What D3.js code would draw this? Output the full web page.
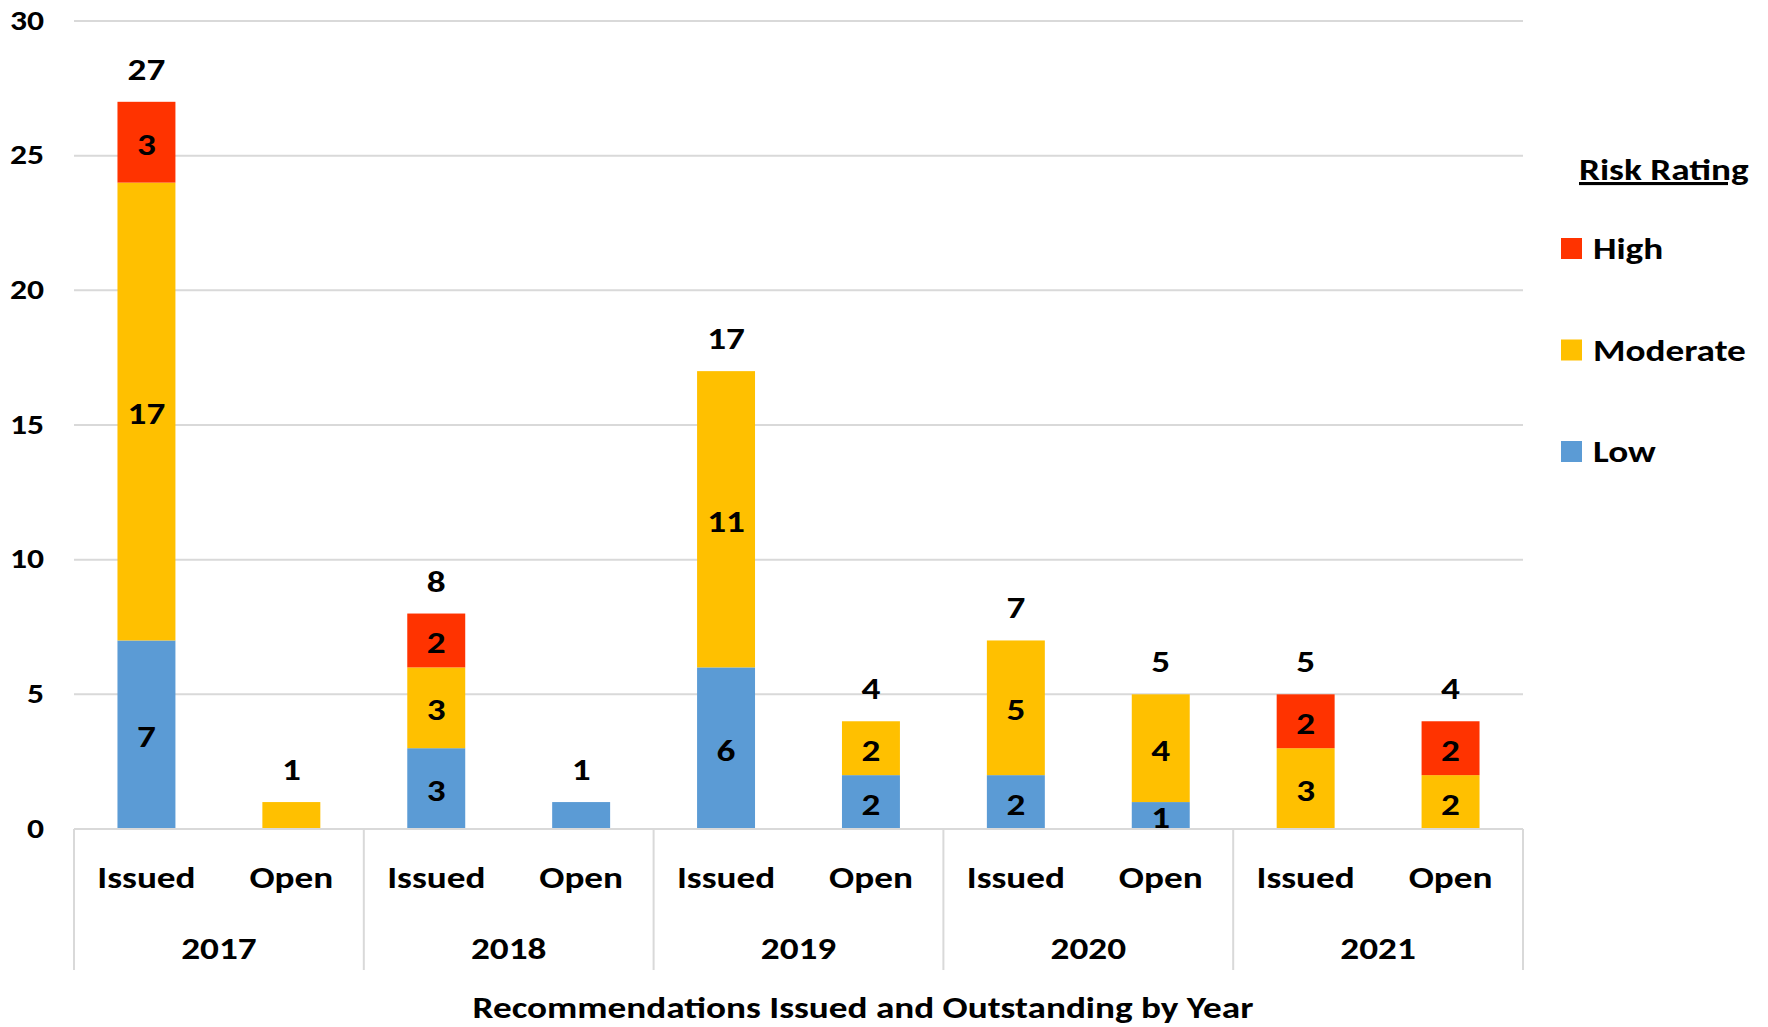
<!DOCTYPE html>
<html>
<head>
<meta charset="utf-8">
<script src="https://cdn.jsdelivr.net/npm/d3@7"></script>
<style>
    body { margin: 0; background: #fff; }
    svg text { font-family: Carlito, Calibri, Lato, sans-serif; font-weight: 700; fill: #000; }
</style>
</head>
<body>
<div id="chart"></div>
<script>

// Data
const years = ["2017", "2018", "2019", "2020", "2021"];
const statuses = ["Issued", "Open"];
const riskLevels = ["Low", "Moderate", "High"];
const riskColors = ["#5B9BD5", "#FFC000", "#FF3300"];

// one value per bar, order: 2017 Issued, 2017 Open, 2018 Issued, ...
const lowValues      = [7, 0, 3, 1, 6, 2, 2, 1, 0, 0];
const moderateValues = [17, 1, 3, 0, 11, 2, 5, 4, 3, 2];
const highValues     = [3, 0, 2, 0, 0, 0, 0, 0, 2, 2];

const yTicks = [0, 5, 10, 15, 20, 25, 30];
const xTitle = "Recommendations Issued and Outstanding by Year";
const legendTitle = "Risk Rating";


class riskChart {

    constructor(_parentElement) {
        this.parentElement = _parentElement;
        this.initVis();
    }

    initVis() {
        let vis = this;

        vis.width = 1768;
        vis.height = 1027;
        vis.plot = { left: 74, right: 1523, top: 21, bottom: 829 };

        vis.svg = d3.select("#" + vis.parentElement).append("svg")
            .attr("width", vis.width)
            .attr("height", vis.height);

        // rows for the stack
        vis.rows = [];
        years.forEach(function (yr, i) {
            statuses.forEach(function (st, j) {
                let k = i * statuses.length + j;
                vis.rows.push({
                    key: yr + "-" + st, year: yr, status: st,
                    Low: lowValues[k], Moderate: moderateValues[k], High: highValues[k]
                });
            });
        });
        vis.rows.forEach(function (d) { d.total = d.Low + d.Moderate + d.High; });

        vis.x = d3.scaleBand()
            .domain(vis.rows.map(d => d.key))
            .range([vis.plot.left, vis.plot.right]);

        vis.xYear = d3.scaleBand()
            .domain(years)
            .range([vis.plot.left, vis.plot.right]);

        vis.y = d3.scaleLinear()
            .domain([0, 30])
            .range([vis.plot.bottom, vis.plot.top]);

        vis.color = d3.scaleOrdinal().domain(riskLevels).range(riskColors);

        vis.barWidth = vis.x.bandwidth() * 0.4;

        // gridlines
        vis.svg.append("g")
            .attr("class", "grid")
            .selectAll("line")
            .data(yTicks)
            .enter().append("line")
            .attr("x1", vis.plot.left)
            .attr("x2", vis.plot.right)
            .attr("y1", d => vis.y(d))
            .attr("y2", d => vis.y(d))
            .style("stroke", "#D9D9D9")
            .style("stroke-width", 2);

        // y axis labels (no axis line)
        let yAxis = d3.axisLeft(vis.y)
            .tickValues(yTicks)
            .tickSize(0)
            .tickPadding(0);
        let yG = vis.svg.append("g")
            .attr("class", "y-axis axis")
            .attr("transform", "translate(44,0)")
            .call(yAxis);
        yG.select(".domain").remove();
        yG.selectAll("text")
            .attr("dy", null)
            .attr("dominant-baseline", null)
            .attr("y", 8)
            .style("font-size", "28px")
            .style("font-family", "Carlito, Calibri, Lato, sans-serif")
            .style("font-weight", 700);

        vis.drawBars();
        vis.drawCategoryAxis();
        vis.drawLegend();

        // the reference type is set wide; stretch glyphs horizontally
        vis.svg.selectAll("text").each(function () {
            let w = this.getComputedTextLength();
            d3.select(this)
                .attr("textLength", w * 1.2)
                .attr("lengthAdjust", "spacingAndGlyphs");
        });
    }

    drawBars() {
        let vis = this;

        let series = d3.stack().keys(riskLevels)(vis.rows);

        let layers = vis.svg.selectAll(".layer")
            .data(series)
            .enter().append("g")
            .attr("class", "layer")
            .style("fill", d => vis.color(d.key));

        layers.selectAll("rect")
            .data(d => d.filter(s => s[1] > s[0]))
            .enter().append("rect")
            .attr("x", d => vis.x(d.data.key) + (vis.x.bandwidth() - vis.barWidth) / 2)
            .attr("width", vis.barWidth)
            .attr("y", d => vis.y(d[1]))
            .attr("height", d => vis.y(d[0]) - vis.y(d[1]));

        // labels inside segments, only where a bar has more than one segment
        let segs = [];
        series.forEach(function (s) {
            s.forEach(function (d) {
                let v = d[1] - d[0];
                let parts = riskLevels.filter(r => d.data[r] > 0).length;
                if (v > 0 && parts > 1) segs.push({ key: d.data.key, v: v, mid: (d[0] + d[1]) / 2 });
            });
        });

        vis.svg.selectAll(".seg-label")
            .data(segs)
            .enter().append("text")
            .attr("class", "seg-label")
            .attr("x", d => vis.x(d.key) + vis.x.bandwidth() / 2)
            .attr("y", d => vis.y(d.mid) + 12.5)
            .style("text-anchor", "middle")
            .style("font-size", "31px")
            .text(d => d.v);

        // totals above bars
        vis.svg.selectAll(".total-label")
            .data(vis.rows)
            .enter().append("text")
            .attr("class", "total-label")
            .attr("x", d => vis.x(d.key) + vis.x.bandwidth() / 2)
            .attr("y", d => vis.y(d.total) - 22)
            .style("text-anchor", "middle")
            .style("font-size", "31px")
            .text(d => d.total);
    }

    drawCategoryAxis() {
        let vis = this;

        // base line
        vis.svg.append("line")
            .attr("x1", vis.plot.left)
            .attr("x2", vis.plot.right)
            .attr("y1", vis.plot.bottom)
            .attr("y2", vis.plot.bottom)
            .style("stroke", "#D9D9D9")
            .style("stroke-width", 2);

        // group separators
        let edges = years.map(d => vis.xYear(d)).concat([vis.plot.right]);
        vis.svg.selectAll(".sep")
            .data(edges)
            .enter().append("line")
            .attr("class", "sep")
            .attr("x1", d => d)
            .attr("x2", d => d)
            .attr("y1", vis.plot.bottom)
            .attr("y2", 970)
            .style("stroke", "#D9D9D9")
            .style("stroke-width", 2);

        vis.svg.selectAll(".status-label")
            .data(vis.rows)
            .enter().append("text")
            .attr("class", "status-label")
            .attr("x", d => vis.x(d.key) + vis.x.bandwidth() / 2)
            .attr("y", 888)
            .style("text-anchor", "middle")
            .style("font-size", "31px")
            .text(d => d.status);

        vis.svg.selectAll(".year-label")
            .data(years)
            .enter().append("text")
            .attr("class", "year-label")
            .attr("x", d => vis.xYear(d) + vis.xYear.bandwidth() / 2)
            .attr("y", 959)
            .style("text-anchor", "middle")
            .style("font-size", "31px")
            .text(d => d);

        vis.svg.append("text")
            .attr("class", "axis-text")
            .attr("x", 863)
            .attr("y", 1018)
            .style("text-anchor", "middle")
            .style("font-size", "31px")
            .text(xTitle);
    }

    drawLegend() {
        let vis = this;

        vis.svg.append("text")
            .attr("x", 1579)
            .attr("y", 180)
            .style("font-size", "31px")
            .style("text-decoration", "underline")
            .text(legendTitle);

        let order = riskLevels.slice().reverse();
        let legY = d3.scalePoint().domain(order).range([248, 451]);

        let items = vis.svg.selectAll(".legend-item")
            .data(order)
            .enter().append("g")
            .attr("class", "legend-item")
            .attr("transform", d => "translate(1561," + legY(d) + ")");

        items.append("rect")
            .attr("x", 0)
            .attr("y", -10)
            .attr("width", 21)
            .attr("height", 21)
            .style("fill", d => vis.color(d));

        items.append("text")
            .attr("x", 32)
            .attr("y", 11)
            .style("font-size", "31px")
            .text(d => d);
    }
}

new riskChart("chart");
</script>
</body>
</html>
